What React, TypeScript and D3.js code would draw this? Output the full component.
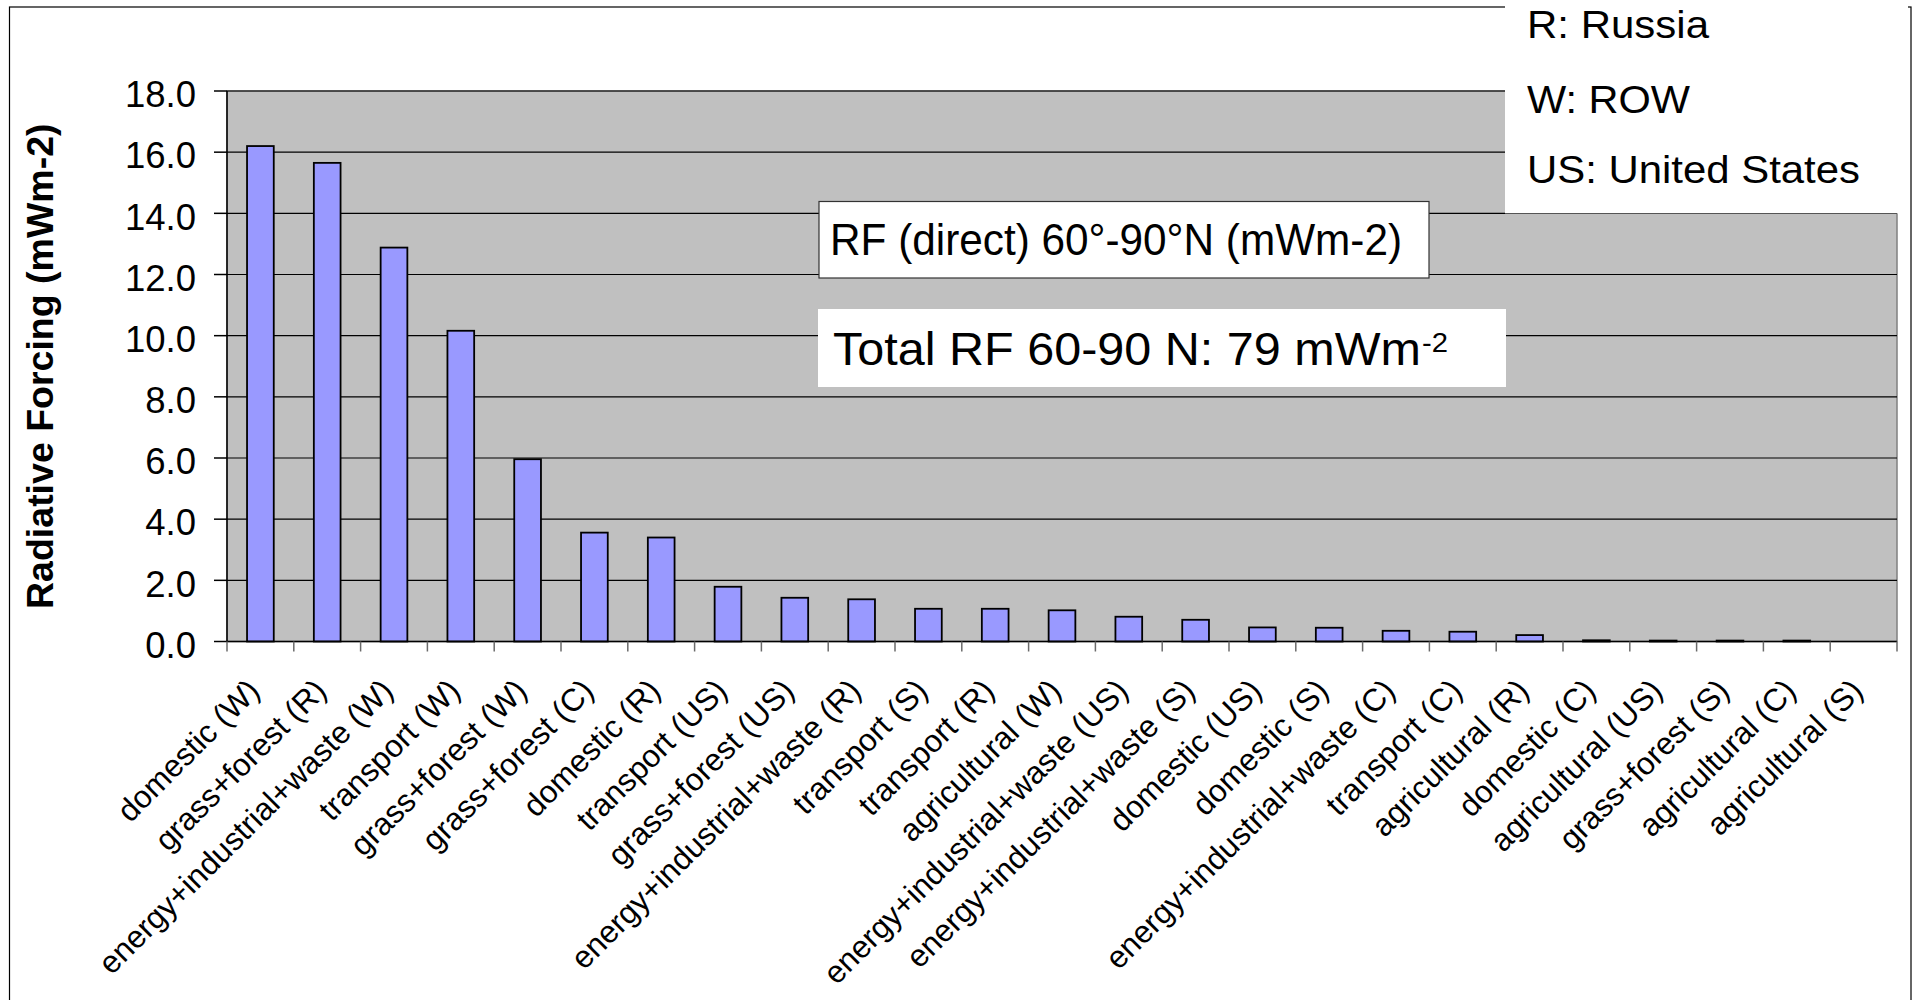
import React from "react";
import * as d3 from "d3";

// Source sectors by region (C: China, R: Russia, S: Scandinavia, US: United States, W: ROW)
const categories: string[] = [
  "domestic (W)",
  "grass+forest (R)",
  "energy+industrial+waste (W)",
  "transport (W)",
  "grass+forest (W)",
  "grass+forest (C)",
  "domestic (R)",
  "transport (US)",
  "grass+forest (US)",
  "energy+industrial+waste (R)",
  "transport (S)",
  "transport (R)",
  "agricultural (W)",
  "energy+industrial+waste (US)",
  "energy+industrial+waste (S)",
  "domestic (US)",
  "domestic (S)",
  "energy+industrial+waste (C)",
  "transport (C)",
  "agricultural (R)",
  "domestic (C)",
  "agricultural (US)",
  "grass+forest (S)",
  "agricultural (C)",
  "agricultural (S)",
];

// Direct radiative forcing, 60-90N (mW m-2)
const forcing: number[] = [
  16.2, 15.65, 12.88, 10.16, 5.96, 3.56, 3.4, 1.79, 1.43, 1.38, 1.07, 1.07,
  1.02, 0.81, 0.71, 0.46, 0.45, 0.35, 0.32, 0.21, 0.04, 0.03, 0.03, 0.03, 0.0,
];

const yTicks: number[] = [0, 2, 4, 6, 8, 10, 12, 14, 16, 18];

const legendLines: string[] = ["R: Russia", "W: ROW", "US: United States"];

const FONT = "'Liberation Sans', Arial, Helvetica, sans-serif";

export default function App() {
  const width = 1917;
  const height = 1000;
  const plot = { left: 227, right: 1897, top: 91, bottom: 641.5 };

  const idx = categories.map((_, i) => i);
  const x = d3
    .scaleBand<number>()
    .domain(idx)
    .range([plot.left, plot.right])
    .paddingInner(0.6)
    .paddingOuter(0.3);
  const step = x.step();
  const y = d3.scaleLinear().domain([0, 18]).range([plot.bottom, plot.top]);

  const tickEdges = d3.range(categories.length + 1).map((i) => plot.left + i * step);

  return (
    <svg
      width={width}
      height={height}
      viewBox={`0 0 ${width} ${height}`}
      style={{ position: "absolute", left: 0, top: 0, display: "block", background: "#fff" }}
      fontFamily={FONT}
    >
      {/* chart frame */}
      <rect x={9.5} y={7} width={1901.5} height={1010} fill="#fff" stroke="#000" strokeWidth={1.2} />

      {/* plot area */}
      <rect
        x={plot.left}
        y={plot.top}
        width={plot.right - plot.left}
        height={plot.bottom - plot.top}
        fill="#C0C0C0"
        stroke="#808080"
        strokeWidth={1.5}
      />

      {/* gridlines */}
      {yTicks.map((t) => (
        <line
          key={`g${t}`}
          x1={plot.left}
          x2={plot.right}
          y1={y(t)}
          y2={y(t)}
          stroke="#000"
          strokeWidth={1.2}
        />
      ))}

      {/* bars */}
      {forcing.map((v, i) => (
        <rect
          key={`b${i}`}
          x={x(i)!}
          y={y(v)}
          width={x.bandwidth()}
          height={Math.max(0, y(0) - y(v))}
          fill="#9999FF"
          stroke="#000"
          strokeWidth={1.8}
        />
      ))}

      {/* y axis */}
      <line x1={plot.left} x2={plot.left} y1={plot.top} y2={plot.bottom} stroke="#000" strokeWidth={1.5} />
      {yTicks.map((t) => (
        <g key={`yt${t}`}>
          <line x1={plot.left - 13} x2={plot.left} y1={y(t)} y2={y(t)} stroke="#000" strokeWidth={1.5} />
          <text
            x={196}
            y={y(t) + 3.5}
            dy="0.35em"
            textAnchor="end"
            fontSize={36.5}
            fill="#000"
          >
            {d3.format(".1f")(t)}
          </text>
        </g>
      ))}

      {/* x axis */}
      <line x1={plot.left} x2={plot.right} y1={plot.bottom} y2={plot.bottom} stroke="#000" strokeWidth={1.5} />
      {tickEdges.map((tx, i) => (
        <line
          key={`xt${i}`}
          x1={tx}
          x2={tx}
          y1={plot.bottom}
          y2={plot.bottom + 10}
          stroke="#6a6a6a"
          strokeWidth={1.5}
        />
      ))}
      {categories.map((c, i) => {
        const cx = x(i)! + x.bandwidth() / 2;
        return (
          <text
            key={`xl${i}`}
            transform={`translate(${cx + 1},${plot.bottom + 51}) rotate(-45)`}
            textAnchor="end"
            fontSize={31.5}
            fill="#000"
          >
            {c}
          </text>
        );
      })}

      {/* y axis title */}
      <text
        transform={`translate(40,${(plot.top + plot.bottom) / 2}) rotate(-90)`}
        dy="0.35em"
        textAnchor="middle"
        fontSize={37.5}
        fontWeight="bold"
        fill="#000"
      >
        Radiative Forcing (mWm-2)
      </text>

      {/* region key */}
      <rect x={1505} y={-5} width={403} height={y(14) + 5} fill="#fff" />
      {legendLines.map((l, i) => (
        <text
          key={`lg${i}`}
          x={1527}
          y={[38, 113, 183][i]}
          fontSize={38}
          textLength={[182, 163, 333][i]}
          lengthAdjust="spacingAndGlyphs"
          fill="#000"
        >
          {l}
        </text>
      ))}

      {/* annotation boxes */}
      <rect x={819} y={201.5} width={610} height={76.5} fill="#fff" stroke="#333" strokeWidth={1.2} />
      <text
        x={830}
        y={255}
        fontSize={45}
        textLength={572}
        lengthAdjust="spacingAndGlyphs"
        fill="#000"
      >
        RF (direct) 60°-90°N (mWm-2)
      </text>

      <rect x={818} y={309} width={688} height={78} fill="#fff" />
      <text
        x={833}
        y={365}
        fontSize={46}
        textLength={588}
        lengthAdjust="spacingAndGlyphs"
        fill="#000"
      >
        Total RF 60-90 N: 79 mWm
      </text>
      <text x={1422} y={351.5} fontSize={28} textLength={26} lengthAdjust="spacingAndGlyphs" fill="#000">
        -2
      </text>
    </svg>
  );
}
